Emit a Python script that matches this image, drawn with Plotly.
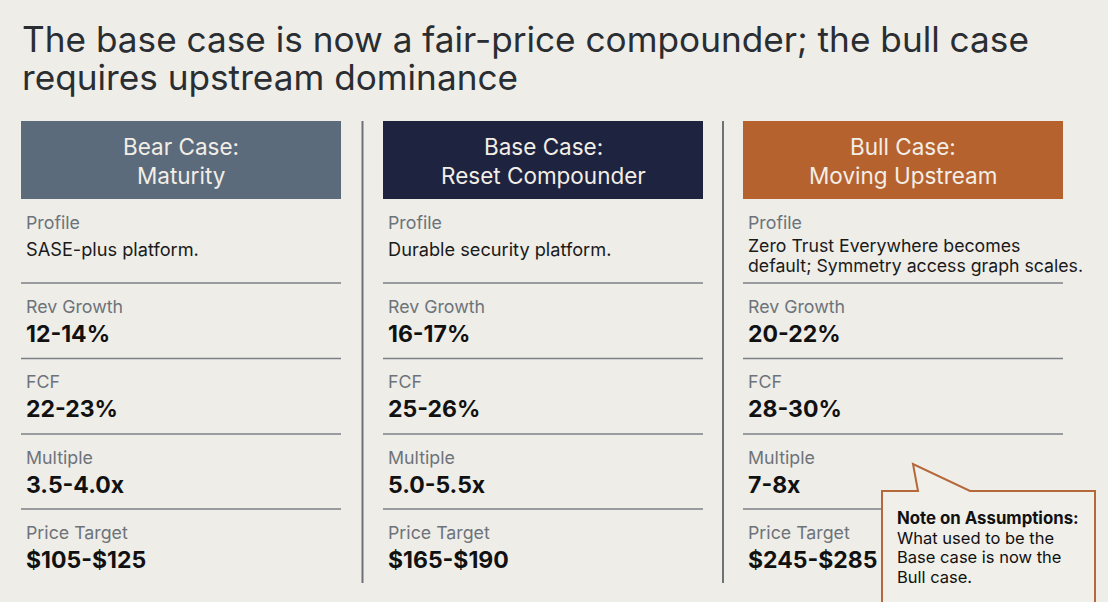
import plotly.graph_objects as go

# ---- data ----
title_lines = ["The base case is now a fair-price compounder; the bull case",
               "requires upstream dominance"]
case_names = ["Bear Case:", "Base Case:", "Bull Case:"]
case_subtitles = ["Maturity", "Reset Compounder", "Moving Upstream"]
header_colors = ["#5b6b7c", "#1e2340", "#b6622f"]
metric_labels = ["Profile", "Rev Growth", "FCF", "Multiple", "Price Target"]
profiles = [["SASE-plus platform."],
            ["Durable security platform."],
            ["Zero Trust Everywhere becomes", "default; Symmetry access graph scales."]]
rev_growth = ["12-14%", "16-17%", "20-22%"]
fcf = ["22-23%", "25-26%", "28-30%"]
multiple = ["3.5-4.0x", "5.0-5.5x", "7-8x"]
price_target = ["$105-$125", "$165-$190", "$245-$285"]
note_title = "Note on Assumptions:"
note_lines = ["What used to be the", "Base case is now the", "Bull case."]

W, H = 1108, 602
BG = "#eeede8"
FONT = "Inter"

col_x = [21, 383, 743]
col_w = 320
dividers = [362.5, 723]
header_top, header_bot = 121, 199
row_lines = [283, 358.5, 434, 509]

fig = go.Figure()
fig.add_trace(go.Scatter(x=[0], y=[0], mode="markers", marker=dict(opacity=0),
                         hoverinfo="skip", showlegend=False))

shapes = []
ann = []


def txt(x, y, s, size, color, bold=False, anchor="left"):
    ann.append(dict(x=x, y=y, xref="x", yref="y", text=f"<b>{s}</b>" if bold else s,
                    showarrow=False, xanchor=anchor, yanchor="middle",
                    font=dict(family=FONT, size=size, color=color)))


# title
for i, line in enumerate(title_lines):
    txt(20, 38.5 + i * 38.5, line, 35.2, "#2a2d31")

# vertical dividers
for dx in dividers:
    shapes.append(dict(type="line", xref="x", yref="y", x0=dx, x1=dx, y0=121, y1=583,
                       line=dict(color="#6d7278", width=2)))

values = [rev_growth, fcf, multiple, price_target]

for c in range(3):
    x0 = col_x[c]
    shapes.append(dict(type="rect", xref="x", yref="y", x0=x0, x1=x0 + col_w,
                       y0=header_top, y1=header_bot, fillcolor=header_colors[c], line=dict(width=0)))
    cx = x0 + col_w / 2
    txt(cx, 146, case_names[c], 22.5, "#f2eee6", anchor="center")
    txt(cx, 175, case_subtitles[c], 22.5, "#f2eee6", anchor="center")

    for ly in row_lines:
        shapes.append(dict(type="line", xref="x", yref="y", x0=x0, x1=x0 + col_w, y0=ly, y1=ly,
                           line=dict(color="#7c8187", width=1.5)))

    # profile row
    tx = x0 + 3
    txt(tx, 222, metric_labels[0], 17.8, "#6d737a")
    if len(profiles[c]) == 1:
        txt(tx, 248.5, profiles[c][0], 18.2, "#1a1a1a")
    else:
        for k, line in enumerate(profiles[c]):
            txt(tx, 245 + k * 20, line, 17.7, "#1a1a1a")

    # numeric rows
    for r, vals in enumerate(values):
        top = row_lines[r]
        txt(tx, top + 23, metric_labels[r + 1], 17.8, "#6d737a")
        txt(tx, top + 50.5, vals[c], 23, "#111111", bold=True)

# callout box with pointer
shapes.append(dict(type="path", xref="x", yref="y",
                   path="M 882 491 L 918 491 L 913 464 L 970 491 L 1095 491 L 1095 612 L 882 612 Z",
                   fillcolor="#f0efea", line=dict(color="#b5683a", width=2)))
txt(895, 518, note_title, 16.8, "#111111", bold=True)
for k, line in enumerate(note_lines):
    txt(895, 537.5 + k * 19.5, line, 16.5, "#111111")

fig.update_layout(
    width=W, height=H,
    margin=dict(l=0, r=0, t=0, b=0),
    paper_bgcolor=BG, plot_bgcolor=BG,
    xaxis=dict(range=[0, W], visible=False, fixedrange=True),
    yaxis=dict(range=[H, 0], visible=False, fixedrange=True),
    shapes=shapes, annotations=ann,
    showlegend=False,
)

fig.write_html("out.html", config={"displayModeBar": False},
               post_script="document.body.style.margin='0px';document.body.style.background='%s';" % BG)
